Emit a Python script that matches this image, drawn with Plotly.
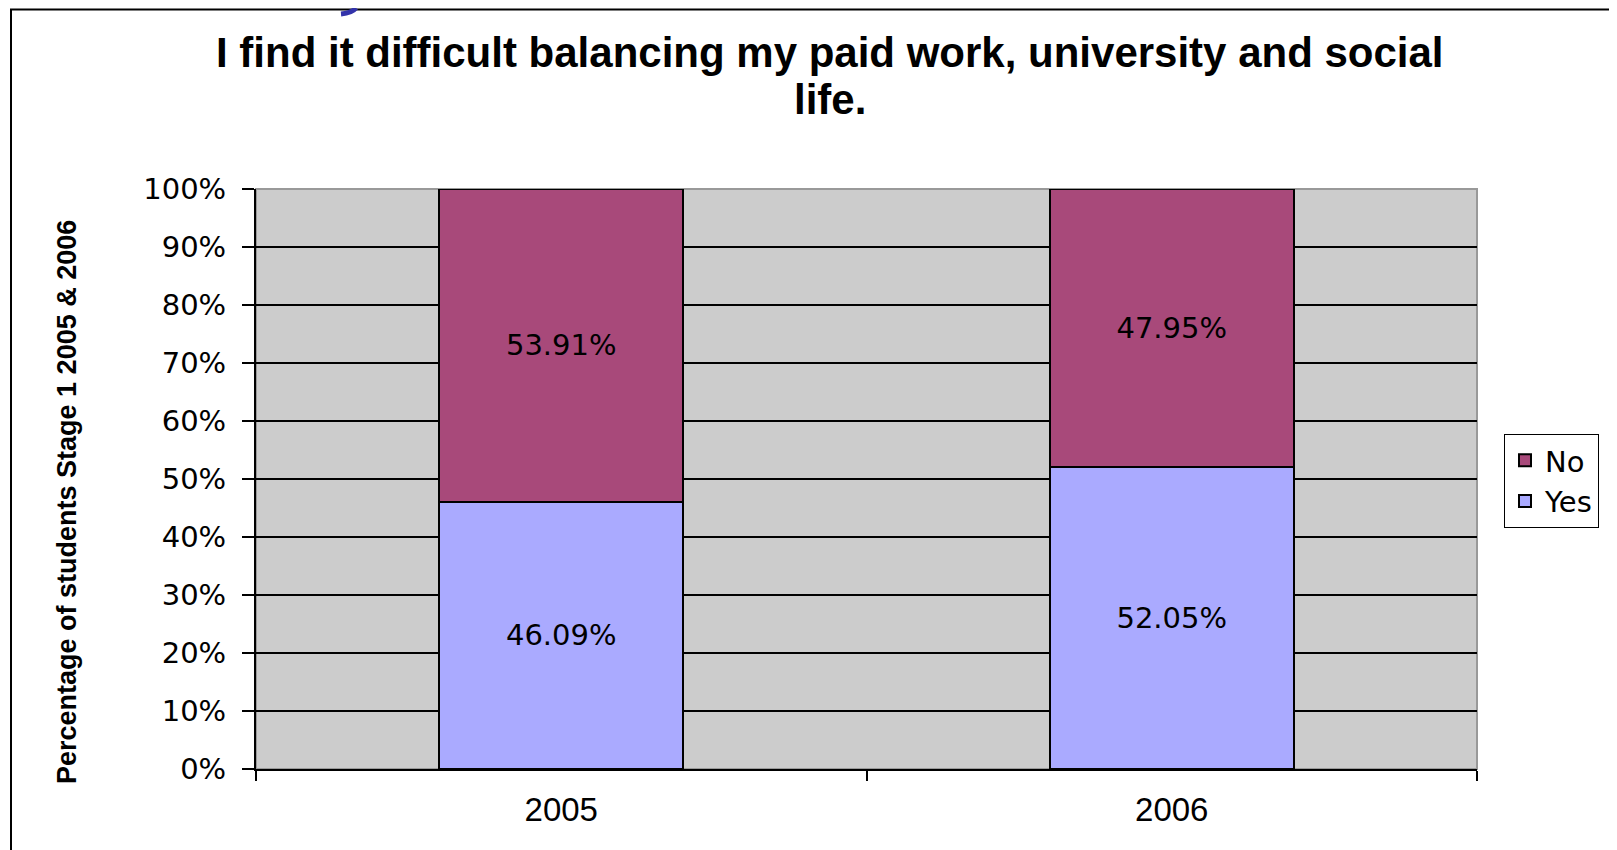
import plotly.graph_objects as go

years = ["2005", "2006"]
yes_pct = [46.09, 52.05]
no_pct = [53.91, 47.95]
y_ticks = [0, 10, 20, 30, 40, 50, 60, 70, 80, 90, 100]
y_tick_labels = ["0%", "10%", "20%", "30%", "40%", "50%", "60%", "70%", "80%", "90%", "100%"]

title_lines = ["I find it difficult balancing my paid work, university and social", "life."]
y_title = "Percentage of students Stage 1 2005 & 2006"

# page body has an 8px margin, so the figure is drawn 8px in and 8px down
OFF = 8
W, H = 1617 - OFF, 850 - OFF
L, R, T, B = 256 - OFF, 1477 - OFF, 189 - OFF, 769 - OFF  # plot area in figure pixels


def px(x):
    # x given in window pixels
    return (x - OFF - L) / (R - L)


def py(y):
    return (B - (y - OFF)) / (B - T)


label_font = dict(family="DejaVu Sans", size=29, color="black")

fig = go.Figure()
fig.add_trace(go.Bar(
    x=years, y=yes_pct, name="Yes", legendgroup="yes",
    marker=dict(color="#AAAAFF", line=dict(color="black", width=2)),
    width=0.4,
    texttemplate="%{y:.2f}%", textposition="inside", insidetextanchor="middle",
    textfont=label_font,
))
fig.add_trace(go.Bar(
    x=years, y=no_pct, name="No", legendgroup="no",
    marker=dict(color="#A8497A", line=dict(color="black", width=2)),
    width=0.4,
    texttemplate="%{y:.2f}%", textposition="inside", insidetextanchor="middle",
    textfont=label_font,
))

fig.update_layout(
    width=W, height=H,
    margin=dict(l=L, r=W - R, t=T, b=H - B, autoexpand=False),
    barmode="stack",
    paper_bgcolor="white",
    plot_bgcolor="#CCCCCC",
    showlegend=True,
    legend=dict(
        x=px(1504), y=py(434), xanchor="left", yanchor="top",
        traceorder="reversed", tracegroupgap=15,
        bordercolor="black", borderwidth=1, bgcolor="white",
        font=dict(family="DejaVu Sans", size=29, color="black"),
    ),
    uniformtext=dict(mode="show", minsize=10),
)

fig.update_xaxes(
    type="category", tickson="boundaries", ticks="outside", ticklen=10,
    tickwidth=2, tickcolor="black", showline=True, linecolor="black", linewidth=2,
    showgrid=False, ticklabelstandoff=10,
    tickfont=dict(family="Liberation Sans", size=33, color="black"),
)
fig.update_yaxes(
    range=[0, 100], tickvals=y_ticks, ticktext=y_tick_labels, ticks="outside", ticklen=12,
    tickwidth=2, tickcolor="black", showline=True, linecolor="black", linewidth=2,
    showgrid=True, gridcolor="black", gridwidth=2, zeroline=False,
    ticklabelstandoff=10,
    tickfont=dict(family="DejaVu Sans", size=29, color="black"),
)

# title, two lines placed separately
for text, yc in zip(title_lines, [52, 100]):
    fig.add_annotation(
        text="<b>" + text + "</b>", x=px(830), y=py(yc), xref="paper", yref="paper",
        xanchor="center", yanchor="middle", showarrow=False,
        font=dict(family="Liberation Sans", size=42, color="black"),
    )

# rotated y-axis title
fig.add_annotation(
    text="<b>" + y_title + "</b>", x=px(67), y=py(502), xref="paper", yref="paper",
    xanchor="center", yanchor="middle", showarrow=False, textangle=-90,
    font=dict(family="Liberation Sans Narrow, Liberation Sans", size=27, color="black"),
)

# plot border (grey) and outer chart frame
fig.add_shape(type="rect", xref="paper", yref="paper", x0=0, y0=0, x1=1, y1=1,
              line=dict(color="#999999", width=2), layer="below")
fig.add_shape(type="rect", xref="paper", yref="paper",
              x0=px(11), y0=py(880), x1=px(1640), y1=py(OFF + 1.5),
              line=dict(color="black", width=2), fillcolor="rgba(0,0,0,0)")
# little blue stroke cut off at the top edge
fig.add_shape(type="path", xref="paper", yref="paper",
              path="M {} {} Q {} {} {} {}".format(px(341), py(14), px(352), py(13), px(356), py(OFF)),
              line=dict(color="#3333AA", width=5))

fig.write_html("out.html")
